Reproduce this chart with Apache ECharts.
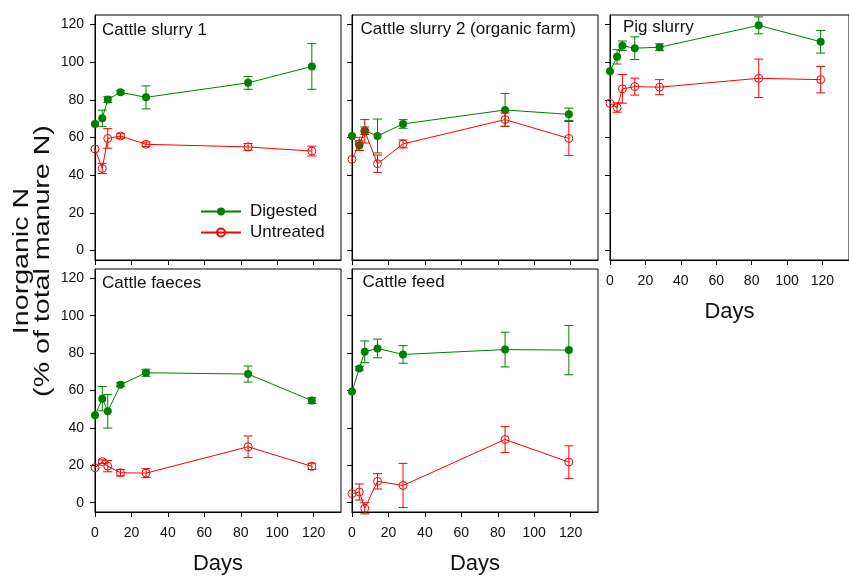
<!DOCTYPE html>
<html><head><meta charset="utf-8">
<script src="https://cdn.jsdelivr.net/npm/echarts@6/dist/echarts.min.js"></script>
<style>html,body{margin:0;padding:0;background:#fff}#c{width:849px;height:576px}</style>
</head><body><div id="c"></div>
<script>
const days = [0, 4, 7, 14, 28, 84, 119];
const yTicks = [0, 20, 40, 60, 80, 100, 120];
const xTicks = [0, 20, 40, 60, 80, 100, 120];
const panelTitles = ['Cattle slurry 1', 'Cattle slurry 2 (organic farm)', 'Pig slurry', 'Cattle faeces', 'Cattle feed'];
const seriesNames = ['Digested', 'Untreated'];
const xName = 'Days';
const yNameLine1 = 'Inorganic N';
const yNameLine2 = '(% of total manure N)';

// Cattle slurry 1
const cs1Digested     = [67.2, 70.2, 80.1, 84.0, 81.3, 89.0, 97.7];
const cs1DigestedErr  = [0, 4.3, 1.5, 1.0, 6.1, 3.4, 12.1];
const cs1Untreated    = [53.9, 43.6, 59.5, 60.8, 56.4, 55.0, 52.8];
const cs1UntreatedErr = [0, 2.7, 5.2, 1.2, 1.2, 1.8, 2.6];
// Cattle slurry 2 (organic farm)
const cs2Digested     = [60.8, 55.7, 63.6, 60.8, 67.2, 74.6, 72.3];
const cs2DigestedErr  = [0, 2.5, 2.0, 9.0, 2.3, 8.8, 3.3];
const cs2Untreated    = [48.4, 56.6, 63.3, 46.1, 56.6, 69.5, 59.5];
const cs2UntreatedErr = [0, 3.5, 6.2, 4.6, 2.1, 3.5, 9.0];
// Pig slurry
const pigDigested     = [95.2, 102.8, 108.7, 107.4, 107.9, 119.5, 110.8];
const pigDigestedErr  = [0, 3.8, 2.5, 6.0, 1.8, 4.5, 6.0];
const pigUntreated    = [78.1, 75.9, 85.8, 87.0, 86.7, 91.4, 90.7];
const pigUntreatedErr = [0, 2.5, 7.6, 4.5, 4.0, 10.2, 7.0];
// Cattle faeces
const cfDigested      = [46.7, 55.6, 48.9, 63.1, 69.5, 68.8, 54.6];
const cfDigestedErr   = [0, 6.5, 9.0, 1.0, 1.9, 4.3, 1.6];
const cfUntreated     = [18.7, 21.9, 19.5, 16.0, 15.8, 29.9, 19.4];
const cfUntreatedErr  = [0, 1.0, 3.0, 1.7, 2.4, 5.8, 1.7];
// Cattle feed
const fdDigested      = [59.5, 71.8, 80.7, 82.5, 79.3, 81.9, 81.6];
const fdDigestedErr   = [0, 1.0, 5.8, 5.0, 4.7, 9.3, 13.2];
const fdUntreated     = [4.8, 5.7, -3.0, 11.4, 9.2, 33.8, 21.7];
const fdUntreatedErr  = [0, 4.3, 3.0, 4.1, 11.8, 7.0, 8.7];

const panels = [
  [cs1Digested, cs1DigestedErr, cs1Untreated, cs1UntreatedErr],
  [cs2Digested, cs2DigestedErr, cs2Untreated, cs2UntreatedErr],
  [pigDigested, pigDigestedErr, pigUntreated, pigUntreatedErr],
  [cfDigested, cfDigestedErr, cfUntreated, cfUntreatedErr],
  [fdDigested, fdDigestedErr, fdUntreated, fdUntreatedErr]
];

const FONT = "'Liberation Sans', Arial, sans-serif";
const GREEN = '#008000';
const RED = '#ff0000';
const TXT = '#111';

const gridPos = [
  {left: 95, top: 15, width: 246, height: 245},
  {left: 352, top: 15, width: 246, height: 245},
  {left: 610, top: 15, width: 246, height: 245},
  {left: 95, top: 269, width: 246, height: 245},
  {left: 352, top: 269, width: 246, height: 245}
];
const titlePos = [[102, 30], [360.5, 29], [623, 27], [102, 283.5], [362.5, 282.5]];
const showXLabels = [false, false, true, true, true];
const showYLabels = [true, false, false, true, false];

const grids = [], xAxes = [], yAxes = [], series = [], graphics = [];

function errRender(color) {
  return function (params, api) {
    const x = api.value(0), m = api.value(1), e = api.value(2);
    if (!e) return null;
    const top = api.coord([x, m + e]);
    const bot = api.coord([x, m - e]);
    const hw = 4.5;
    const st = {stroke: color, lineWidth: 1};
    return {type: 'group', children: [
      {type: 'line', shape: {x1: top[0], y1: top[1], x2: bot[0], y2: bot[1]}, style: st},
      {type: 'line', shape: {x1: top[0] - hw, y1: top[1], x2: top[0] + hw, y2: top[1]}, style: st},
      {type: 'line', shape: {x1: bot[0] - hw, y1: bot[1], x2: bot[0] + hw, y2: bot[1]}, style: st}
    ]};
  };
}

panels.forEach((p, i) => {
  grids.push(Object.assign({show: true, borderColor: '#000', borderWidth: 1, backgroundColor: 'transparent'}, gridPos[i]));
  xAxes.push({
    type: 'value', gridIndex: i, min: 0, max: 135,
    axisLine: {show: true, onZero: false, lineStyle: {color: '#000', width: 1}},
    axisTick: {show: true, inside: false, length: 5, customValues: xTicks, lineStyle: {color: '#000'}},
    axisLabel: {show: showXLabels[i], customValues: xTicks, margin: 14, fontSize: 14, color: TXT, fontFamily: FONT},
    splitLine: {show: false},
    name: showXLabels[i] ? xName : '', nameLocation: 'middle', nameGap: 41,
    nameTextStyle: {fontSize: 22, color: TXT, fontFamily: FONT}
  });
  yAxes.push({
    type: 'value', gridIndex: i, min: -5, max: 125,
    axisLine: {show: true, onZero: false, lineStyle: {color: '#000', width: 1}},
    axisTick: {show: true, inside: false, length: 5, customValues: yTicks, lineStyle: {color: '#000'}},
    axisLabel: {show: showYLabels[i], customValues: yTicks, margin: 11, fontSize: 14, color: TXT, fontFamily: FONT},
    splitLine: {show: false}
  });
  const [dg, dge, ut, ute] = p;
  series.push({
    type: 'custom', xAxisIndex: i, yAxisIndex: i, z: 1, silent: true,
    renderItem: errRender(GREEN),
    data: days.map((d, k) => [d, dg[k], dge[k]])
  });
  series.push({
    type: 'line', name: seriesNames[0], xAxisIndex: i, yAxisIndex: i, z: 2,
    data: days.map((d, k) => [d, dg[k]]),
    symbol: 'circle', symbolSize: 8, showSymbol: true,
    itemStyle: {color: GREEN},
    lineStyle: {color: GREEN, width: 1},
    animation: false
  });
  series.push({
    type: 'custom', xAxisIndex: i, yAxisIndex: i, z: 3, silent: true,
    renderItem: errRender(RED),
    data: days.map((d, k) => [d, ut[k], ute[k]])
  });
  series.push({
    type: 'line', name: seriesNames[1], xAxisIndex: i, yAxisIndex: i, z: 4,
    data: days.map((d, k) => [d, ut[k]]),
    symbol: 'circle', symbolSize: 8, showSymbol: true,
    itemStyle: {color: 'rgba(255,255,255,0)', borderColor: RED, borderWidth: 1},
    lineStyle: {color: RED, width: 1},
    animation: false
  });
  graphics.push({
    type: 'text', x: titlePos[i][0], y: titlePos[i][1],
    style: {text: panelTitles[i], fontSize: 17, fill: TXT, fontFamily: FONT, align: 'left', verticalAlign: 'middle'}
  });
});

graphics.push({
  type: 'text', x: 22, y: 261, rotation: Math.PI / 2, scaleX: 1.3,
  style: {text: yNameLine1, fontSize: 22, fill: TXT, fontFamily: FONT, align: 'center', verticalAlign: 'middle'}
});
graphics.push({
  type: 'text', x: 43, y: 261, rotation: Math.PI / 2, scaleX: 1.3,
  style: {text: yNameLine2, fontSize: 22, fill: TXT, fontFamily: FONT, align: 'center', verticalAlign: 'middle'}
});

const chart = echarts.init(document.getElementById('c'), null, {renderer: 'canvas'});
chart.setOption({
  animation: false,
  backgroundColor: '#fff',
  grid: grids, xAxis: xAxes, yAxis: yAxes, series: series,
  legend: {
    data: seriesNames, orient: 'vertical', left: 195, top: 198,
    itemWidth: 40, itemHeight: 10, itemGap: 4,
    textStyle: {fontSize: 17, color: TXT, fontFamily: FONT, padding: [0, 0, 0, 4]},
    selectedMode: false
  },
  graphic: graphics
});
</script></body></html>
